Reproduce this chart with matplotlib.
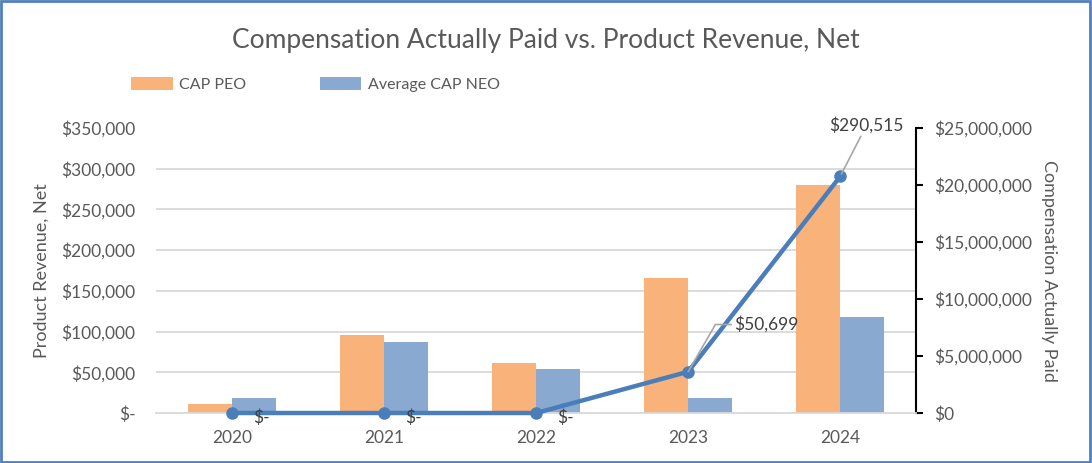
import numpy as np
import matplotlib
matplotlib.use("Agg")
import matplotlib.pyplot as plt
from matplotlib.patches import Rectangle
from matplotlib.ticker import FuncFormatter

plt.rcParams['font.family'] = ['Lato', 'DejaVu Sans']

years = ["2020", "2021", "2022", "2023", "2024"]
cap_peo = [0.79e6, 6.87e6, 4.41e6, 11.84e6, 20.0e6]
cap_neo = [1.34e6, 6.25e6, 3.89e6, 1.32e6, 8.42e6]
revenue = [0, 0, 0, 50699, 290515]

orange = '#f9b27a'
blue_bar = '#8aa9d0'
blue_line = '#4a7ebb'
txt = '#595959'

fig = plt.figure(figsize=(10.92, 4.63), dpi=100)
ax = fig.add_axes([0.143, 0.108, 0.696, 0.6155])
ax2 = ax.twinx()

x = np.arange(len(years))
w = 0.29
ax.bar(x - w / 2, cap_peo, w, color=orange, label='CAP PEO', zorder=2)
ax.bar(x + w / 2, cap_neo, w, color=blue_bar, label='Average CAP NEO', zorder=2)
ax.set_xlim(-0.5, 4.5)
ax.set_ylim(0, 25e6)
ax.set_yticks(np.arange(0, 25e6 + 1, 5e6))
ax.set_yticks(np.linspace(0, 25e6, 8), minor=True)
ax.grid(which='minor', axis='y', color='#d9d9d9', lw=1.3, zorder=0)
ax.tick_params(axis='y', which='minor', length=0)
ax.yaxis.tick_right()
ax.yaxis.set_label_position('right')
ax.yaxis.set_major_formatter(FuncFormatter(lambda v, p: '$0' if v == 0 else f'${v:,.0f}'))
ax.tick_params(axis='y', which='major', colors='black', labelcolor=txt, labelsize=12.5, length=5, width=1.5, pad=8)
ax.set_ylabel('Compensation Actually Paid', rotation=270, labelpad=18, fontsize=13, color=txt)
ax.set_xticks(x)
ax.set_xticklabels(years)
ax.tick_params(axis='x', length=0, labelsize=12.5, labelcolor=txt, pad=12)
for s in ['top', 'left']:
    ax.spines[s].set_visible(False)
ax.spines['right'].set_color('black')
ax.spines['right'].set_linewidth(1.5)
ax.spines['bottom'].set_color('#d9d9d9')
ax.spines['bottom'].set_linewidth(1.3)

ax2.plot(x, revenue, color=blue_line, lw=3.2, marker='o', ms=8, zorder=3, clip_on=False)
ax2.set_ylim(0, 350000)
ax2.set_yticks(np.arange(0, 350001, 50000))
ax2.yaxis.tick_left()
ax2.yaxis.set_label_position('left')
ax2.yaxis.set_major_formatter(FuncFormatter(lambda v, p: '$-' if v == 0 else f'${v:,.0f}'))
ax2.tick_params(axis='y', length=0, labelsize=12.5, labelcolor=txt, pad=15)
ax2.set_ylabel('Product Revenue, Net', fontsize=13, color=txt, labelpad=8)
for s in ax2.spines.values():
    s.set_visible(False)

for i, v in enumerate(revenue):
    if v == 0:
        ax2.annotate('$-', (x[i], v), xytext=(15, -3.5), textcoords='offset points',
                     ha='left', va='center', fontsize=12.5, color='#404040', zorder=5)
ax2.annotate(f'${revenue[3]:,}', (x[3], revenue[3]), xytext=(33, 34), textcoords='offset points',
             ha='left', va='center', fontsize=12.5, color='#404040', zorder=5,
             arrowprops=dict(arrowstyle='-', color='#a6a6a6', lw=1.2, shrinkA=0, shrinkB=0,
                             connectionstyle='angle,angleA=0,angleB=60,rad=0'))
ax2.annotate(f'${revenue[4]:,}', (x[4], revenue[4]), xytext=(19, 37), textcoords='offset points',
             ha='center', va='center', fontsize=12.5, color='#404040', zorder=5,
             arrowprops=dict(arrowstyle='-', color='#a6a6a6', lw=1.2, shrinkA=0, shrinkB=2))

fig.suptitle('Compensation Actually Paid vs. Product Revenue, Net', y=0.913, va='center',
             fontsize=19, color=txt)
fig.legend(loc='center left', bbox_to_anchor=(0.107, 0.818), ncol=2, frameon=False,
           fontsize=11.5, handlelength=2.6, handleheight=0.9, handletextpad=0.4,
           columnspacing=4.6, labelcolor=txt)

fig.patches.append(Rectangle((0.001, 0.002), 0.997, 0.995, transform=fig.transFigure,
                             fill=False, edgecolor='#4f81bd', lw=2))

fig.savefig('out.png', dpi=100)
